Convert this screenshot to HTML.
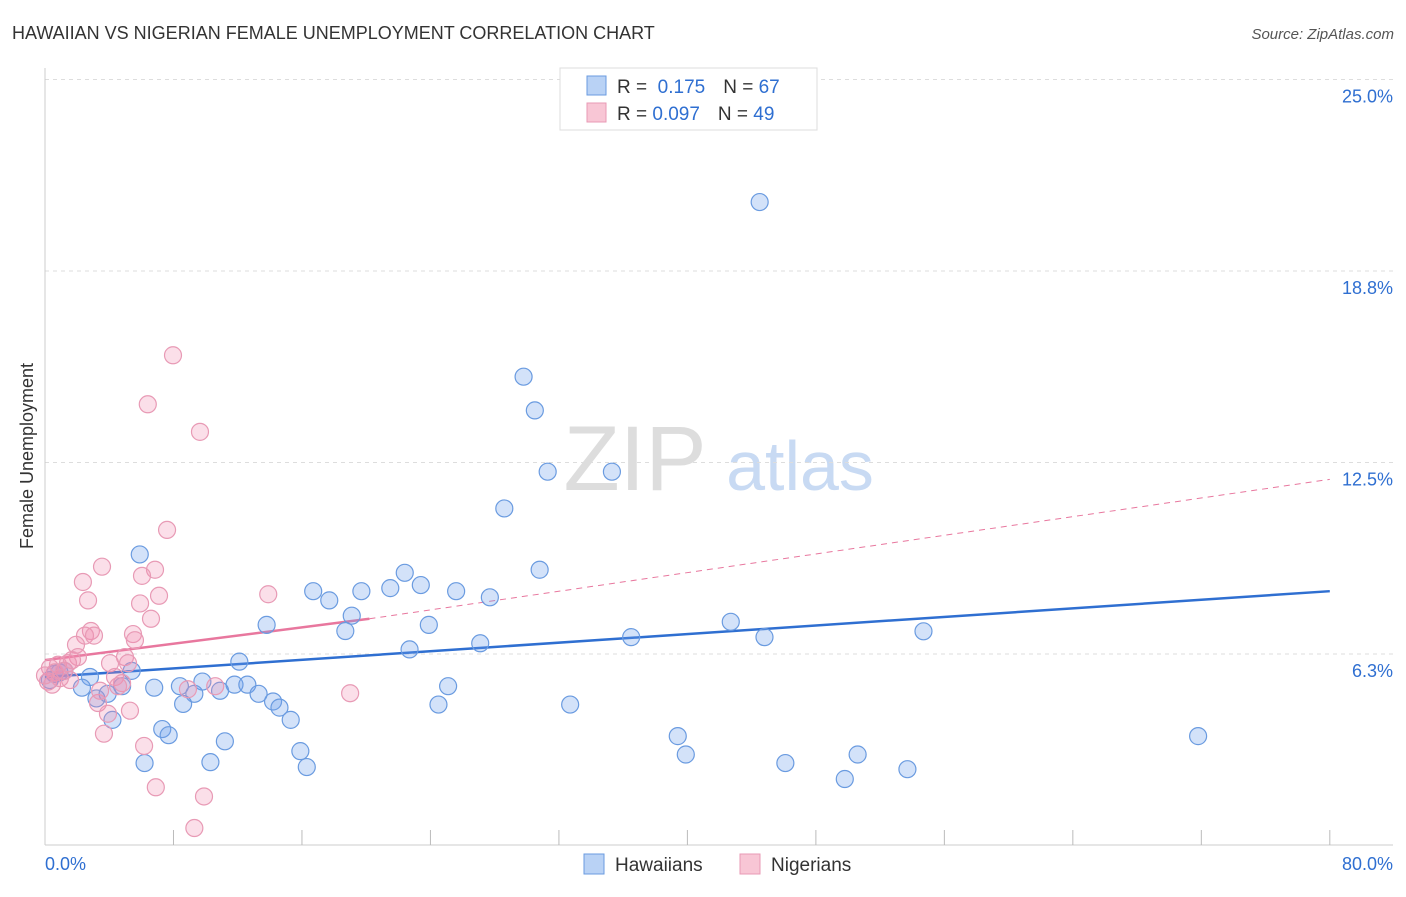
<!DOCTYPE html>
<html><head><meta charset="utf-8"><style>
body{margin:0;background:#fff;font-family:"Liberation Sans",sans-serif;}
svg text{font-family:"Liberation Sans",sans-serif;}
</style></head><body>
<svg id="chart" width="1406" height="892" viewBox="0 0 1406 892">
<text x="12" y="39" font-size="18" fill="#333">HAWAIIAN VS NIGERIAN FEMALE UNEMPLOYMENT CORRELATION CHART</text>
<text x="1394" y="39" font-size="15" fill="#555" font-style="italic" text-anchor="end">Source: ZipAtlas.com</text>
<text x="33" y="456" font-size="18" fill="#333" text-anchor="middle" transform="rotate(-90 33 456)">Female Unemployment</text>
<g><text x="635" y="490" font-size="92" fill="#ddd" font-family="Liberation Serif" text-anchor="middle">ZIP</text><text x="800" y="490" font-size="70" fill="#c8daf3" text-anchor="middle">atlas</text></g>
<g id="grid"></g><g id="axes"></g><g id="trends"></g><g id="points"></g>
<g>
<rect x="560" y="68" width="257" height="62" fill="#fff" stroke="#ddd"/>
<rect x="587" y="76" width="19" height="19" fill="#b9d2f5" stroke="#6a9be0"/>
<rect x="587" y="103" width="19" height="19" fill="#f8c6d5" stroke="#e89ab5"/>
<text x="617" y="93" font-size="19" fill="#333">R = <tspan fill="#2f6fd1">&#160;0.175</tspan><tspan dx="18">N = </tspan><tspan fill="#2f6fd1">67</tspan></text>
<text x="617" y="120" font-size="19" fill="#333">R = <tspan fill="#2f6fd1">0.097</tspan><tspan dx="18">N = </tspan><tspan fill="#2f6fd1">49</tspan></text>
</g>
<g>
<rect x="584" y="854" width="20" height="20" fill="#b9d2f5" stroke="#6a9be0"/>
<text x="615" y="871" font-size="19" fill="#333">Hawaiians</text>
<rect x="740" y="854" width="20" height="20" fill="#f8c6d5" stroke="#e89ab5"/>
<text x="771" y="871" font-size="19" fill="#333">Nigerians</text>
</g>
</svg>
<script>
const yTicks=[6.25,12.5,18.75,25];
const yTickLabels=["6.3%","12.5%","18.8%","25.0%"];
const xTickLabels=["0.0%","80.0%"];
const hawX=[44.5,29.8,30.5,31.3,35.3,28.6,30.8,5.9,22.4,23.4,21.5,19.7,16.7,17.7,25.6,27.7,19.1,18.7,13.8,23.9,42.7,54.7,36.5,44.8,27.1,22.7,12.1,5.4,2.8,1.2,0.6,2.3,6.8,8.4,9.8,11.8,12.6,10.9,9.3,13.3,14.2,14.6,8.6,3.2,3.9,4.8,25.1,24.5,32.7,15.3,4.2,7.3,7.7,11.2,15.9,39.4,39.9,50.6,71.8,6.2,10.3,16.3,46.1,53.7,49.8,0.3,0.9];
const hawY=[21.0,15.3,14.2,12.2,12.2,11.0,9.0,9.5,8.9,8.5,8.4,8.3,8.3,8.0,8.3,8.1,7.5,7.0,7.2,7.2,7.3,6.99,6.8,6.8,6.6,6.4,6.0,5.7,5.5,5.7,5.6,5.15,5.15,5.2,5.35,5.25,5.25,5.05,4.95,4.95,4.7,4.5,4.62,4.8,4.95,5.2,5.2,4.6,4.6,4.1,4.1,3.8,3.6,3.4,3.08,3.57,2.97,2.97,3.57,2.69,2.72,2.56,2.69,2.49,2.17,5.4,5.65];
const nigX=[7.97,6.4,9.65,7.6,3.55,6.85,2.36,6.04,2.68,7.1,5.92,13.9,6.6,2.86,2.49,3.05,5.48,1.93,5.6,2.05,4.98,4.05,5.17,1.43,0.81,0.31,0.62,1.18,1.56,4.36,4.8,0.19,0.44,4.55,8.9,10.6,19.0,3.3,3.92,5.29,3.67,6.17,6.9,9.9,9.3,0.93,1.68,0.0,3.43];
const nigY=[16.0,14.4,13.5,10.3,9.1,9.0,8.6,8.8,8.0,8.15,7.9,8.2,7.4,7.0,6.85,6.85,6.9,6.55,6.7,6.15,6.15,5.95,5.95,5.95,5.9,5.8,5.65,5.7,5.4,5.5,5.3,5.35,5.25,5.2,5.1,5.2,4.97,4.65,4.3,4.4,3.65,3.25,1.9,1.6,0.57,5.46,6.05,5.55,5.05];
const hawTrend=[0,5.5,80,8.3];
const nigTrend=[0,6.05,20.2,7.4,80,11.95];
const NS="http://www.w3.org/2000/svg";
const sx=v=>45+v*16.06, sy=v=>845.5-v*30.64;
function mk(tag,attrs,parent){const e=document.createElementNS(NS,tag);for(const k in attrs)e.setAttribute(k,attrs[k]);document.getElementById(parent).appendChild(e);return e;}
yTicks.forEach((t,i)=>{
 const l=mk('line',{x1:45,x2:1393,y1:sy(t),y2:sy(t),stroke:'#ddd','stroke-dasharray':'4,4'},'grid');
 
 
 const tx=mk('text',{x:1393,y:sy(t)+23,'font-size':18,fill:'#2f6fd1','text-anchor':'end'},'grid');
 tx.textContent=yTickLabels[i];
 
 
});
mk('line',{x1:45,x2:45,y1:68,y2:845,stroke:'#ccc'},'axes');
mk('line',{x1:45,x2:1393,y1:845,y2:845,stroke:'#ccc'},'axes');
for(let i=1;i<=10;i++){const x=sx(i*8);const t=mk('line',{x1:x,x2:x,y1:830,y2:845,stroke:'#bbb'},'axes');
 
 }
const xl0=mk('text',{x:45,y:870,'font-size':18,fill:'#2f6fd1'},'axes');xl0.textContent=xTickLabels[0];


const xl1=mk('text',{x:1393,y:870,'font-size':18,fill:'#2f6fd1','text-anchor':'end'},'axes');xl1.textContent=xTickLabels[1];


hawX.forEach((x,i)=>{const c=mk('circle',{cx:sx(x),cy:sy(hawY[i]),r:8.5,fill:'rgba(110,160,235,0.3)',stroke:'#6a9be0','stroke-width':1.2},'points');
 
 });
nigX.forEach((x,i)=>{const c=mk('circle',{cx:sx(x),cy:sy(nigY[i]),r:8.5,fill:'rgba(240,140,175,0.28)',stroke:'#e89ab5','stroke-width':1.2},'points');
 
 });
const ht=mk('line',{x1:sx(hawTrend[0]),y1:sy(hawTrend[1]),x2:sx(hawTrend[2]),y2:sy(hawTrend[3]),stroke:'#2f6fd1','stroke-width':2.5},'trends');


const nd=mk('line',{x1:sx(nigTrend[2]),y1:sy(nigTrend[3]),x2:sx(nigTrend[4]),y2:sy(nigTrend[5]),stroke:'#e8779e','stroke-width':1,'stroke-dasharray':'6,5'},'trends');


const nt=mk('line',{x1:sx(nigTrend[0]),y1:sy(nigTrend[1]),x2:sx(nigTrend[2]),y2:sy(nigTrend[3]),stroke:'#e8779e','stroke-width':2.5},'trends');


</script>
</body></html>
